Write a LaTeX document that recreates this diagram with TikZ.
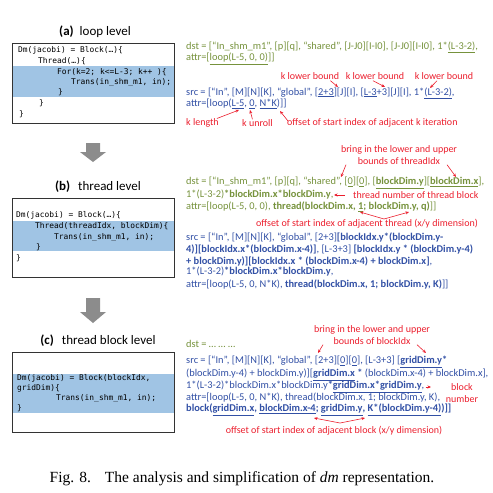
\documentclass[tikz,border=0pt]{standalone}
\usepackage{fontspec}
\setmainfont{Carlito}
\newfontfamily\codefont{DejaVu Sans Mono}
\newfontfamily\capfont{Liberation Serif}
\usetikzlibrary{arrows.meta}
\definecolor{olivec}{RGB}{118,146,60}
\definecolor{bluec}{RGB}{50,80,165}
\definecolor{redc}{RGB}{235,30,45}
\definecolor{bandc}{RGB}{160,196,228}
\definecolor{greyarr}{RGB}{140,140,140}
\newcommand\bb[1]{\textbf{#1}}
\newcommand\bul[1]{\underline{#1}}
\tikzset{
 code/.style={anchor=west, inner sep=0pt, font=\codefont\fontsize{7.9}{9}\selectfont},
 rt/.style={anchor=west, inner sep=0pt, font=\fontsize{10.4}{12}\selectfont, text=bluec},
 dt/.style={rt, text=olivec},
 rl/.style={inner sep=0pt, font=\fontsize{10}{12}\selectfont, text=redc},
 ra/.style={draw=redc, line width=0.6pt, -{Stealth[length=3.5pt,width=3pt]}},
 lvl/.style={inner sep=0pt, font=\fontsize{13}{15}\selectfont},
 cbox/.style={draw=black!80, line width=0.9pt, inner sep=0pt, anchor=north west, minimum width=162pt},
 band/.style={fill=bandc},
 garrow/.style={fill=greyarr},
}
\begin{document}
\begin{tikzpicture}[x=1pt,y=-1pt]
\useasboundingbox (0,0) rectangle (493,493);
% ---------- (a)
\node[lvl] (la) at (95,32) {\textbf{(a)}\hspace{6pt}loop level};
\fill[band] (12,66) rectangle (174,97);
\node[cbox, minimum height=80pt] (boxa) at (12,43) {};
\node[code] (a1) at (18,50) {Dm(jacobi) = Block(…)\{};
\node[code] (a2) at (38,61) {Thread(…)\{};
\node[code] (a3) at (57,72) {For(k=2; k<=L-3; k++ )\{};
\node[code] (a4) at (71,82) {Trans(in\_shm\_m1, in);};
\node[code] (a5) at (58,92) {\}};
\node[code] (a6) at (39,103) {\}};
\node[code] (a7) at (19,114) {\}};

\node[dt] (dsta) at (186,47) {dst = [“In\_shm\_m1”, [p][q], “shared”, [J-J0][I-I0], [J-J0][I-I0], 1*\bul{(L-3-2)},};
\node[dt] (attra) at (186,59) {attr=[\bul{loop(L-5, 0, 0)}]]};
\node[rl] (klb1) at (310,76) {k lower bound};
\node[rl] (klb2) at (375,76) {k lower bound};
\node[rl] (klb3) at (444,76) {k lower bound};
\node[rt] (srca) at (186,93) {src = [“In”, [M][N][K], “global”, [\bul{2+3}][J][I], [\bul{L-3}+3][J][I], 1*\bul{(L-3-2)},};
\node[rt] (attrb) at (186,104) {attr=[loop(\bul{L-5}, \bul{0}, \bul{N*K})]]};
\node[rl, anchor=west] (klen) at (186,123) {k length};
\node[rl, anchor=west] (kun) at (242,123) {k unroll};
\node[rl, anchor=west] (koff) at (287,123) {offset of start index of adjacent k iteration};
\coordinate (t1) at (338,87);
\coordinate (t2) at (385,87);
\coordinate (t3) at (430,88);
\coordinate (t4) at (239,110);
\coordinate (t5) at (250,110);
\coordinate (t6) at (280,111);
\draw[ra] ([shift={(-9,1)}]klb1.south east) -- (t1);
\draw[ra] ([shift={(-2,1)}]klb2.south) -- (t2);
\draw[ra] ([shift={(-7,1)}]klb3.south) -- (t3);
\draw[ra] ([shift={(-2,0)}]klen.north east) -- (t4);
\draw[ra] ([shift={(-5,0)}]kun.north) -- (t5);
\draw[ra] ([shift={(1,-2)}]koff.west) -- (t6);

% ---------- arrow 1
\fill[garrow] (86,143) -- (100,143) -- (100,152) -- (106,152) -- (93,162) -- (80,152) -- (86,152) -- cycle;

% ---------- (b)
\node[lvl] (lb) at (98,187) {\textbf{(b)}\hspace{8pt}thread level};
\fill[band] (12,221) rectangle (174,251);
\node[cbox, minimum height=79pt] (boxb) at (12,198) {};
\node[code] (b1) at (16,215) {Dm(jacobi) = Block(…)\{};
\node[code] (b2) at (35,226) {Thread(threadIdx, blockDim)\{};
\node[code] (b3) at (54,237) {Trans(in\_shm\_m1, in);};
\node[code] (b4) at (36,247) {\}};
\node[code] (b5) at (16,258) {\}};

\node[rl, align=center] (brb) at (399,155) {bring in the lower and upper\\bounds of threadIdx};
\node[dt] (dstb) at (186,183) {dst = [“In\_shm\_m1”, [p][q], “shared”, [\bul{0}][\bul{0}], [\bb{\bul{blockDim.y}}][\bb{\bul{blockDim.x}}],};
\node[dt] (dstb2) at (186,195) {1*(L-3-2)\bb{*blockDim.x*blockDim.y},};
\node[rl, anchor=west] (tnb) at (353,195) {thread number of thread block};
\node[dt] (attrb1) at (186,207) {attr=[loop(L-5, 0, 0), \bb{thread(blockDim.x, \bul{1}; blockDim.y, q)}]]};
\node[rl] (offb) at (367,224) {offset of start index of adjacent thread (x/y dimension)};
\coordinate (u1) at (341,177);
\coordinate (u2) at (456,177);
\coordinate (u3) at (334,195);
\coordinate (vb) at (384,219);
\coordinate (vb1) at (360,212);
\coordinate (vb2) at (409,212);
\draw[ra] ([shift={(-53,0)}]brb.south) -- (u1);
\draw[ra] ([shift={(48,0)}]brb.south) -- (u2);
\draw[ra] ([shift={(-8,0)}]tnb.west) -- (u3);
\draw[ra] (vb) -- (vb1);
\draw[ra] (vb) -- (vb2);

\node[rt] (srcb1) at (186,238) {src = [“In”, [M][N][K], “global”, [2+3]\bb{[blockIdx.y*(blockDim.y-}};
\node[rt] (srcb2) at (186,249) {\bb{4)][blockIdx.x*(blockDim.x-4)]}, [L-3+3] \bb{[blockIdx.y * (blockDim.y-4)}};
\node[rt] (srcb3) at (186,261) {\bb{+ blockDim.y)][blockIdx.x * (blockDim.x-4) + blockDim.x]},};
\node[rt] (srcb4) at (186,272) {1*(L-3-2)\bb{*blockDim.x*blockDim.y},};
\node[rt] (srcb5) at (186,284) {attr=[loop(L-5, 0, N*K), \bb{thread(blockDim.x, 1; blockDim.y, K)}]]};

% ---------- arrow 2
\fill[garrow] (86,298) -- (100,298) -- (100,312) -- (106,312) -- (93,323) -- (80,312) -- (86,312) -- cycle;

% ---------- (c)
\node[lvl] (lc) at (98,341) {\textbf{(c)}\hspace{8pt}thread block level};
\fill[band] (12,374) rectangle (174,413);
\node[cbox, minimum height=80pt] (boxc) at (12,352) {};
\node[code] (c1) at (17,378) {Dm(jacobi) = Block(blockIdx,};
\node[code] (c2) at (17,388) {gridDim)\{};
\node[code] (c3) at (56,398) {Trans(in\_shm\_m1, in);};
\node[code] (c4) at (17,408) {\}};

\node[rl, align=center] (brc) at (372,335) {bring in the lower and upper\\bounds of blockIdx};
\node[dt] (dstc) at (186,344) {dst = … … …};
\node[rt] (srcc1) at (186,362) {src = [“In”, [M][N][K], “global”, [2+3][\bul{0}][\bul{0}], [L-3+3] [\bb{\bul{gridDim.y}*}};
\node[rt] (srcc2) at (186,375) {(blockDim.y-4) + blockDim.y)][\bb{\bul{gridDim.x} *} (blockDim.x-4) + blockDim.x],};
\node[rt] (srcc3) at (186,387) {1*(L-3-2)*blockDim.x*blockDim.y\bb{*\bul{gridDim.x*gridDim.y}},};
\node[rt] (srcc4) at (186,398) {attr=[loop(L-5, 0, N*K), thread(blockDim.x, 1; blockDim.y, K),};
\node[rt] (srcc5) at (186,410) {\bb{block(\bul{gridDim.x}, \bul{blockDim.x-4}; \bul{gridDim.y}, \bul{K*(blockDim.y-4)})]]}};
\node[rl, align=center] (bn) at (462,393) {block\\number};
\node[rl] (offc) at (334,431) {offset of start index of adjacent block (x/y dimension)};
\coordinate (w1) at (318,353);
\coordinate (w2) at (426,353);
\coordinate (w3) at (431,387);
\coordinate (vc) at (340,423);
\coordinate (vc1) at (314,418);
\coordinate (vc2) at (365,418);
\draw[ra] ([shift={(-49,0)}]brc.south) -- (w1);
\draw[ra] ([shift={(45,0)}]brc.south) -- (w2);
\draw[ra] ([shift={(-20,-6)}]bn.west) -- (w3);
\draw[ra] (vc) -- (vc1);
\draw[ra] (vc) -- (vc2);

% ---------- caption
\node[inner sep=0pt, font=\capfont\fontsize{15.5}{18}\selectfont] (cap) at (242,479) {Fig. 8.\hspace{0.9em}The analysis and simplification of \textit{dm} representation.};
\end{tikzpicture}
\end{document}
